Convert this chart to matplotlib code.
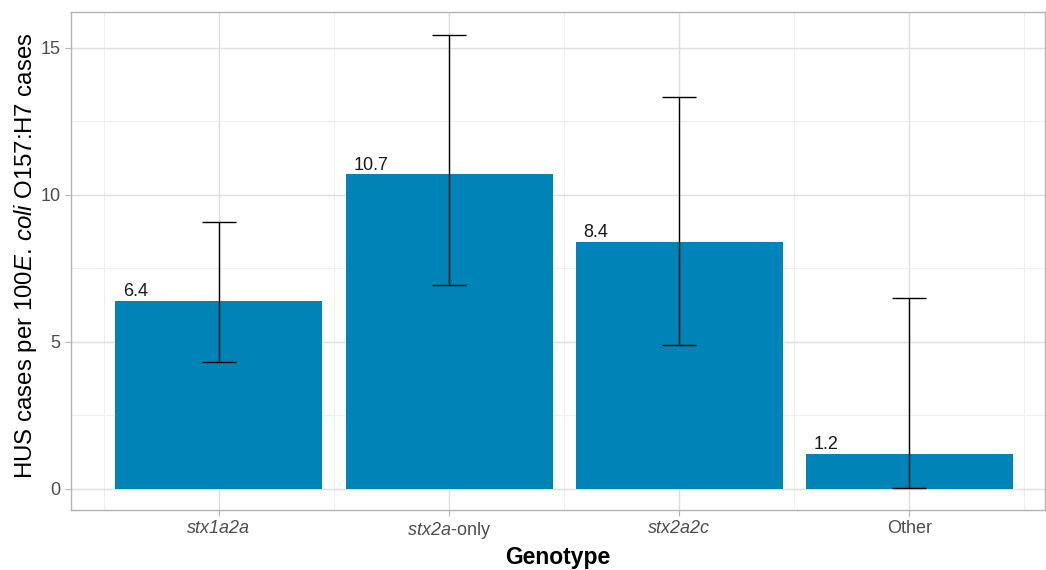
import numpy as np
import matplotlib
matplotlib.use("Agg")
import matplotlib.pyplot as plt
from matplotlib.ticker import MultipleLocator

plt.rcParams['font.family'] = ['Liberation Sans', 'DejaVu Sans']
plt.rcParams['mathtext.fontset'] = 'custom'
plt.rcParams['mathtext.rm'] = 'Liberation Sans'
plt.rcParams['mathtext.it'] = 'Liberation Sans:italic'
plt.rcParams['mathtext.bf'] = 'Liberation Sans:bold'

genotypes = ["stx1a2a", r"stx2a$\text{-only}$", "stx2a2c", "Other"]
italic = [True, True, True, False]
rates = [6.4, 10.7, 8.4, 1.2]
ci_low = [4.32, 6.94, 4.90, 0.03]
ci_high = [9.08, 15.44, 13.33, 6.48]

W, H = 1046, 570
fig = plt.figure(figsize=(W / 100, H / 100), dpi=100)
ax = fig.add_axes([71 / W, 60 / H, 974 / W, 498 / H])

x = np.arange(1, len(rates) + 1)
ax.bar(x, rates, width=0.9, color="#0083B7", zorder=2)

lo = np.array(rates) - np.array(ci_low)
hi = np.array(ci_high) - np.array(rates)
ax.errorbar(x, rates, yerr=[lo, hi], fmt="none", ecolor="black",
            elinewidth=1.0, capsize=12, capthick=1.0, zorder=3)

for xi, r in zip(x, rates):
    ax.annotate(f"{r:.1f}", (xi - 0.415, r), xytext=(0, 0.5), textcoords="offset points",
                ha="left", va="bottom", fontsize=13, color="#1a1a1a", zorder=4)

ax.set_xlim(0.357, 4.59)
ax.set_ylim(-0.72, 16.22)
ax.set_xticks(x)
ax.set_xticklabels(genotypes)
for lab, it in zip(ax.get_xticklabels(), italic):
    if it:
        lab.set_fontstyle("italic")
ax.set_yticks([0, 5, 10, 15])
ax.yaxis.set_minor_locator(MultipleLocator(2.5))
ax.set_xticks(np.arange(0.5, 5.0, 1.0), minor=True)

ax.grid(which="major", color="#DEDEDE", linewidth=1.0, zorder=0)
ax.grid(which="minor", color="#EFEFEF", linewidth=0.8, zorder=0)
ax.set_axisbelow(True)

for s in ax.spines.values():
    s.set_color("#B3B3B3")
    s.set_linewidth(1.0)

ax.tick_params(which="major", length=4, color="#B3B3B3", labelcolor="#4D4D4D", labelsize=13)
ax.tick_params(which="minor", length=0)

ax.set_xlabel("Genotype", fontsize=16.5, fontweight="bold", labelpad=3)
ax.set_ylabel(r"HUS cases per 100$\mathit{E.\,coli}$ O157:H7 cases", fontsize=17.3,
              va="center")
ax.yaxis.set_label_coords(-0.047, 0.51)

fig.savefig("out.png", dpi=100)
